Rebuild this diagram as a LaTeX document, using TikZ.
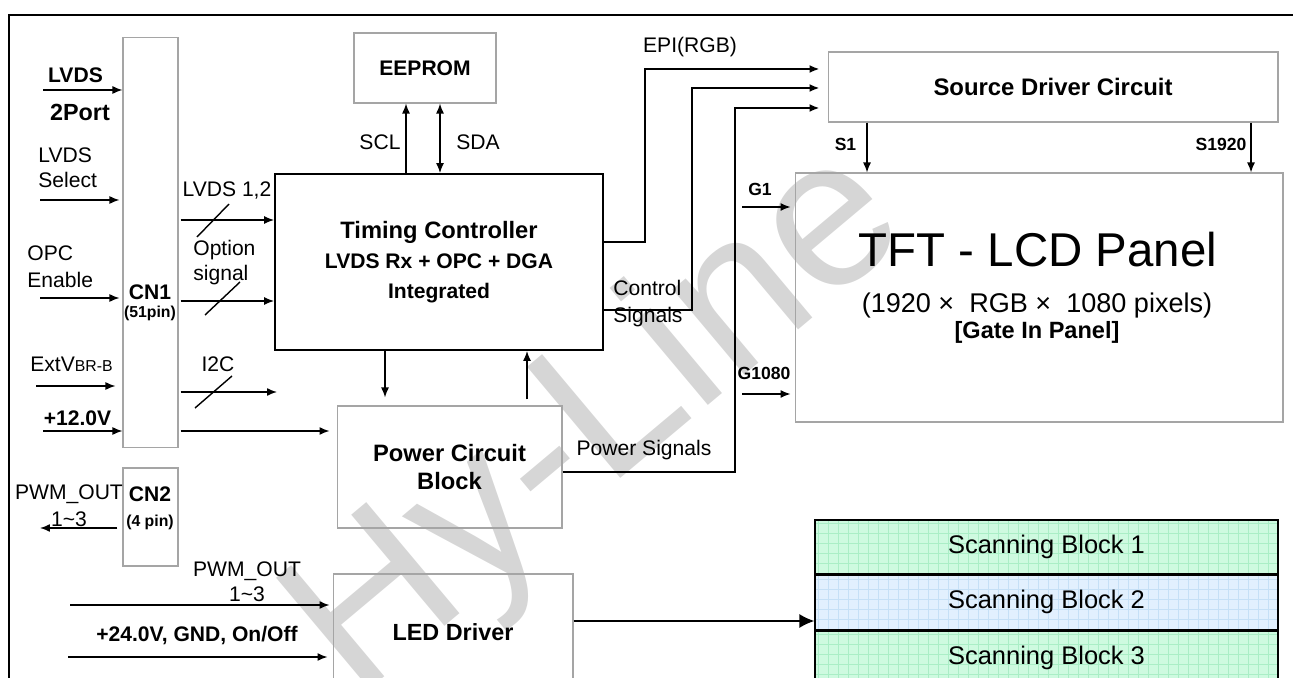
\documentclass[tikz,border=0pt]{standalone}
\usepackage{fontspec}
\setmainfont{Liberation Sans}
\usepackage{xcolor}
\usepackage{tikz}
\usetikzlibrary{arrows.meta,calc,positioning}
\definecolor{boxgray}{RGB}{165,165,165}
\definecolor{scanmint}{RGB}{206,250,224}
\definecolor{scanmintgrid}{RGB}{170,238,198}
\definecolor{scanblue}{RGB}{226,240,254}
\definecolor{scanbluegrid}{RGB}{198,224,246}

\begin{document}
\begin{tikzpicture}[x=0.02cm,y=-0.02cm,
  gbox/.style={draw=boxgray,line width=0.6pt,inner sep=0pt,align=center},
  kbox/.style={draw,line width=1.1pt,inner sep=0pt,align=center},
  lbl/.style={font=\fontsize{12}{14.2}\selectfont,inner sep=0pt},
  blbl/.style={font=\fontsize{12}{14.2}\selectfont\bfseries,inner sep=0pt},
  pinlbl/.style={font=\fontsize{9}{11}\selectfont\bfseries,inner sep=0pt},
  sigtag/.style={font=\fontsize{10}{12}\selectfont\bfseries,inner sep=0pt},
  arr/.style={-{Latex[length=2mm,width=1.6mm]},line width=0.8pt},
  dblarr/.style={{Latex[length=2mm,width=1.6mm]}-{Latex[length=2mm,width=1.6mm]},line width=0.8pt},
  bus/.style={line width=1.1pt,-{Latex[length=2mm,width=1.6mm]},shorten >=1.6mm},
  bigarr/.style={-{Latex[length=3mm,width=2.8mm]},line width=0.8pt},
  slash/.style={line width=0.8pt},
  scanbox/.style={draw,line width=0.8pt,inner sep=0pt,minimum width=9.26cm,
    minimum height=1.08cm,font=\fontsize{14.5}{16}\selectfont},
  wmark/.style={inner sep=0pt,text=black!16,rotate=40,font=\fontsize{120}{120}\selectfont}
]
\useasboundingbox (0,0) rectangle (1293,678);

% watermark
\node[wmark] (wm) at (600,425) {Hy-Line};

% outer frame
\draw[line width=1.2pt] (9,700) -- (9,15) -- (1310,15);

% blocks
\node[gbox,minimum width=1.1cm,minimum height=8.22cm] (cn1) at (150.5,242.5) {};
\node[blbl] (cn1lbl) at (150,292) {CN1};
\node[pinlbl] (cn1pin) at (150,313) {(51pin)};
\node[gbox,minimum width=1.1cm,minimum height=1.96cm] (cn2) at (150.5,517) {};
\node[blbl] (cn2lbl) at (150,494) {CN2};
\node[pinlbl] (cn2pin) at (150,522) {(4 pin)};

\node[gbox,minimum width=2.84cm,minimum height=1.4cm,font=\fontsize{12}{14}\selectfont\bfseries]
  (eeprom) at (425,68) {EEPROM};
\node[kbox,minimum width=6.56cm,minimum height=3.52cm,font=\fontsize{12}{17}\selectfont\bfseries]
  (tcon) at (439,262) {{\fontsize{13.5}{17}\selectfont Timing Controller}\\LVDS Rx + OPC + DGA\\Integrated};
\node[gbox,minimum width=4.5cm,minimum height=2.44cm,font=\fontsize{13.5}{15.4}\selectfont\bfseries]
  (pwr) at (449.5,467) {Power Circuit\\Block};
\node[gbox,minimum width=4.8cm,minimum height=2.32cm,font=\fontsize{13.3}{15}\selectfont\bfseries]
  (led) at (453,632) {LED Driver};
\node[gbox,minimum width=9.0cm,minimum height=1.4cm,font=\fontsize{13.6}{15}\selectfont\bfseries]
  (src) at (1053,87) {Source Driver Circuit};
\node[gbox,minimum width=9.76cm,minimum height=4.98cm] (tft) at (1039,297.5) {};
\node[inner sep=0pt,font=\fontsize{27}{30}\selectfont] (tfttitle) at (1038,250) {TFT - LCD Panel};
\node[inner sep=0pt,font=\fontsize{15.4}{17}\selectfont] (tftres) at (1037,306)
  {(1920 ×\ \ RGB ×\ \ 1080 pixels)};
\node[inner sep=0pt,font=\fontsize{13.4}{15}\selectfont\bfseries] (tftgip) at (1037,332) {[Gate In Panel]};

% scanning blocks
\node[scanbox,fill=scanmint,path picture={\draw[scanmintgrid,line width=0.3pt,step=2mm]
  (path picture bounding box.south west) grid (path picture bounding box.north east);}]
  (sb1) at (1046.5,547) {Scanning Block 1};
\node[scanbox,fill=scanblue,below=0pt of sb1,path picture={\draw[scanbluegrid,line width=0.3pt,step=2mm]
  (path picture bounding box.south west) grid (path picture bounding box.north east);}]
  (sb2) {Scanning Block 2};
\node[scanbox,fill=scanmint,below=0pt of sb2,path picture={\draw[scanmintgrid,line width=0.3pt,step=2mm]
  (path picture bounding box.south west) grid (path picture bounding box.north east);}]
  (sb3) {Scanning Block 3};

% input labels
\node[blbl] (lvdsA) at (75.5,75) {LVDS};
\node[inner sep=0pt,font=\fontsize{13.3}{15}\selectfont\bfseries] (lvdsB) at (80,112) {2Port};
\node[lbl,align=left,anchor=west] (lvdssel) at (38,167.5) {LVDS\\Select};
\node[lbl,align=left,anchor=west,font=\fontsize{12}{15.4}\selectfont] (opcen) at (27,266.5) {OPC\\Enable};
\node[lbl,anchor=west] (extv) at (30,364) {ExtV{\fontsize{9}{10}\selectfont BR-B}};
\node[blbl] (plus12) at (77.5,418) {+12.0V};
\node[lbl] (lvds12) at (227,190) {LVDS 1,2};
\node[lbl,align=left,anchor=west] (optsig) at (193,262.5) {Option\\signal};
\node[lbl] (i2c) at (218,364) {I2C};
\node[lbl] (scl) at (380,142) {SCL};
\node[lbl] (sda) at (478,142) {SDA};
\node[lbl] (epi) at (690,47) {EPI(RGB)};
\node[lbl,align=left,anchor=west,font=\fontsize{12}{15.4}\selectfont] (ctrlsig) at (613,303.5) {Control\\Signals};
\node[lbl] (pwrsig) at (644,450) {Power Signals};
\node[sigtag] (s1) at (845.5,144) {S1};
\node[sigtag] (s1920) at (1221,144) {S1920};
\node[sigtag] (g1) at (760,189) {G1};
\node[sigtag] (g1080) at (764,373) {G1080};
\node[lbl,align=center,font=\fontsize{12}{15.4}\selectfont] (pwmA) at (69,506) {PWM\_OUT\\1\textasciitilde3};
\node[lbl,align=center] (pwmB) at (247,582) {PWM\_OUT\\1\textasciitilde3};
\node[blbl] (plus24) at (197,635) {+24.0V, GND, On/Off};

% free ends
\coordinate (inLVDS) at (43,90);
\coordinate (inSel) at (40,200);
\coordinate (inOPC) at (40,298);
\coordinate (inExt) at (36,386);
\coordinate (in12) at (43,431);
\coordinate (i2cend) at (277,392);
\coordinate (pwmout) at (40,528);
\coordinate (pwmin) at (70,605);
\coordinate (in24) at (68,657);
\coordinate (g1in) at (742,207);
\coordinate (g1080in) at (742,394);
\coordinate (epibend) at (645,69);
\coordinate (ctrlbend) at (692,88);
\coordinate (pwrbend) at (735,108);

% into CN1
\draw[arr] (inLVDS) -- (inLVDS -| cn1.west);
\draw[arr,shorten >=0.06cm] (inSel) -- (inSel -| cn1.west);
\draw[arr,shorten >=0.06cm] (inOPC) -- (inOPC -| cn1.west);
\draw[arr,shorten >=0.14cm] (inExt) -- (inExt -| cn1.west);
\draw[arr] (in12) -- (in12 -| cn1.west);

% out of CN1
\draw[arr,shorten <=0.04cm] (cn1.east |- 0,220) -- (tcon.west |- 0,220);
\draw[arr,shorten <=0.04cm] (cn1.east |- 0,301) -- (tcon.west |- 0,301);
\draw[arr,shorten <=0.04cm] (cn1.east |- i2cend) -- (i2cend);
\draw[arr,shorten <=0.04cm,shorten >=0.14cm] (cn1.east |- in12) -- (pwr.west |- in12);
\draw[slash] (197,237) -- (229,204);
\draw[slash] (205,315) -- (240,282);
\draw[slash] (195,408) -- (232,376);

% EEPROM
\draw[arr] (tcon.north -| 406,0) -- (eeprom.south -| 406,0);
\draw[dblarr] (tcon.north -| 440,0) -- (eeprom.south -| 440,0);

% TCON <-> power
\draw[arr,shorten >=0.16cm] (tcon.south -| 385,0) -- (pwr.north -| 385,0);
\draw[arr,shorten <=0.12cm] (pwr.north -| 527,0) -- (tcon.south -| 527,0);

% buses to source driver
\draw[bus] (tcon.east |- 0,242) -| (epibend) -- (epibend -| src.west);
\draw[bus] (tcon.east |- 0,310) -| (ctrlbend) -- (ctrlbend -| src.west);
\draw[bus] (pwr.east |- 0,472) -| (pwrbend) -- (pwrbend -| src.west);

% source / gate lines
\draw[arr] (src.south -| 867,0) -- (tft.north -| 867,0);
\draw[arr] (src.south -| 1251,0) -- (tft.north -| 1251,0);
\draw[arr,shorten >=0.08cm] (g1in) -- (g1in -| tft.west);
\draw[arr,shorten >=0.08cm] (g1080in) -- (g1080in -| tft.west);

% CN2 and LED driver
\draw[arr,shorten <=0.1cm] (cn2.west |- pwmout) -- (pwmout);
\draw[arr,shorten >=0.06cm] (pwmin) -- (pwmin -| led.west);
\draw[arr,shorten >=0.1cm] (in24) -- (in24 -| led.west);
\draw[bigarr] (led.east |- 0,621) -- (sb2.west |- 0,621);
\end{tikzpicture}
\end{document}
